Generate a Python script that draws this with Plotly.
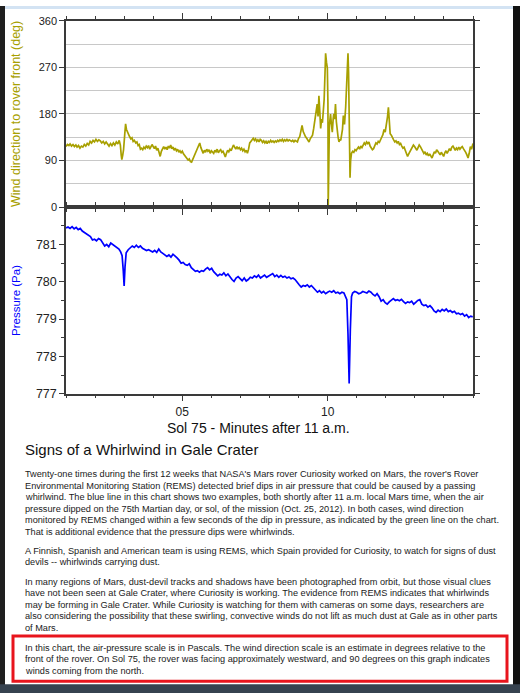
import plotly.graph_objects as go

# wind direction to rover front (deg)
wind_t = [
    1.00, 1.05, 1.10, 1.14, 1.19, 1.24, 1.29, 1.34, 1.38, 1.43, 1.48, 1.53, 1.58, 1.63, 1.68, 1.73,
    1.78, 1.83, 1.88, 1.93, 1.98, 2.03, 2.08, 2.13, 2.18, 2.23, 2.28, 2.33, 2.38, 2.43, 2.48, 2.53,
    2.58, 2.63, 2.68, 2.73, 2.78, 2.83, 2.87, 2.90, 2.92, 2.95, 2.98, 3.02, 3.05, 3.08, 3.11, 3.15,
    3.19, 3.23, 3.27, 3.31, 3.35, 3.40, 3.44, 3.48, 3.52, 3.56, 3.60, 3.64, 3.68, 3.72, 3.76, 3.80,
    3.84, 3.88, 3.92, 3.96, 4.00, 4.04, 4.08, 4.12, 4.16, 4.20, 4.24, 4.28, 4.32, 4.36, 4.40, 4.44,
    4.48, 4.52, 4.56, 4.60, 4.64, 4.68, 4.72, 4.76, 4.80, 4.84, 4.88, 4.92, 4.96, 5.00, 5.04, 5.08,
    5.12, 5.16, 5.20, 5.24, 5.28, 5.32, 5.36, 5.40, 5.44, 5.48, 5.52, 5.56, 5.60, 5.64, 5.68, 5.72,
    5.76, 5.80, 5.84, 5.88, 5.92, 5.96, 6.00, 6.04, 6.08, 6.12, 6.16, 6.20, 6.24, 6.28, 6.32, 6.36,
    6.40, 6.44, 6.48, 6.52, 6.56, 6.60, 6.64, 6.68, 6.72, 6.76, 6.80, 6.84, 6.88, 6.92, 6.96, 7.00,
    7.04, 7.08, 7.12, 7.16, 7.20, 7.24, 7.28, 7.32, 7.36, 7.40, 7.44, 7.48, 7.52, 7.56, 7.60, 7.64,
    7.68, 7.72, 7.76, 7.80, 7.84, 7.88, 7.92, 7.96, 8.00, 8.04, 8.08, 8.12, 8.16, 8.20, 8.24, 8.28,
    8.32, 8.36, 8.40, 8.44, 8.48, 8.52, 8.56, 8.60, 8.64, 8.68, 8.72, 8.76, 8.80, 8.84, 8.88, 8.92,
    8.96, 9.00, 9.04, 9.08, 9.12, 9.16, 9.20, 9.24, 9.28, 9.32, 9.36, 9.40, 9.44, 9.48, 9.52, 9.56,
    9.60, 9.64, 9.67, 9.70, 9.73, 9.76, 9.79, 9.82, 9.85, 9.88, 9.91, 9.93, 9.96, 9.99, 10.01, 10.02,
    10.04, 10.06, 10.08, 10.10, 10.13, 10.16, 10.19, 10.21, 10.24, 10.27, 10.30, 10.33, 10.36, 10.39,
    10.42, 10.45, 10.48, 10.51, 10.54, 10.58, 10.62, 10.65, 10.67, 10.69, 10.70, 10.72, 10.74, 10.76,
    10.77, 10.79, 10.82, 10.86, 10.90, 10.94, 10.98, 11.02, 11.06, 11.10, 11.14, 11.18, 11.22, 11.26,
    11.30, 11.34, 11.38, 11.42, 11.46, 11.50, 11.54, 11.58, 11.62, 11.66, 11.70, 11.74, 11.78, 11.82,
    11.86, 11.90, 11.94, 11.98, 12.02, 12.06, 12.09, 12.12, 12.15, 12.19, 12.23, 12.27, 12.31, 12.35,
    12.39, 12.43, 12.47, 12.51, 12.55, 12.59, 12.63, 12.67, 12.71, 12.75, 12.79, 12.83, 12.87, 12.91,
    12.95, 12.99, 13.03, 13.07, 13.11, 13.15, 13.19, 13.23, 13.27, 13.31, 13.35, 13.39, 13.43, 13.47,
    13.51, 13.55, 13.59, 13.63, 13.67, 13.71, 13.75, 13.79, 13.83, 13.87, 13.91, 13.95, 13.99, 14.03,
    14.07, 14.11, 14.15, 14.19, 14.23, 14.27, 14.31, 14.35, 14.39, 14.43, 14.47, 14.51, 14.55, 14.59,
    14.63, 14.67, 14.71, 14.75, 14.79, 14.83, 14.87, 14.91, 14.95, 14.99, 15.00,
]
wind_deg = [
    117, 121, 119, 122, 118, 121, 117, 120, 116, 119, 114, 118, 116, 121, 118, 123,
    120, 127, 124, 129, 126, 131, 127, 130, 128, 124, 127, 122, 126, 121, 118, 123,
    119, 124, 120, 126, 122, 129, 120, 100, 92, 100, 111, 140, 161, 150, 145, 140,
    136, 132, 134, 127, 129, 124, 126, 119, 121, 112, 114, 111, 116, 113, 118, 115,
    119, 112, 116, 121, 117, 113, 118, 110, 114, 104, 98, 108, 113, 117, 112, 116,
    111, 118, 114, 120, 113, 116, 110, 114, 109, 112, 106, 109, 105, 108, 103, 100,
    97, 95, 91, 93, 88, 87, 92, 97, 101, 106, 112, 118, 124, 115, 109, 104,
    110, 106, 112, 108, 111, 104, 109, 106, 104, 110, 107, 112, 105, 109, 111, 106,
    108, 103, 97, 104, 110, 107, 112, 109, 114, 120, 116, 112, 117, 113, 115, 111,
    114, 109, 112, 107, 110, 104, 112, 124, 127, 131, 133, 129, 132, 127, 130, 126,
    131, 129, 125, 128, 124, 127, 123, 127, 125, 129, 126, 128, 125, 128, 126, 129,
    127, 130, 128, 131, 127, 130, 128, 131, 128, 130, 128, 127, 129, 126, 129, 127,
    126, 133, 136, 147, 158, 146, 140, 136, 133, 129, 126, 132, 137, 139, 152, 170,
    180, 199, 175, 215, 185, 152, 170, 163, 185, 208, 260, 297, 280, 268, 200, 2,
    80, 158, 170, 180, 160, 145, 170, 180, 170, 199, 165, 142, 135, 126,
    131, 129, 138, 150, 177, 160, 193, 230, 268, 285, 297, 260, 180, 100,
    57, 90, 104, 108, 106, 111, 109, 113, 116, 112, 118, 115, 120, 124,
    121, 126, 123, 126, 118, 115, 111, 113, 120, 124, 122, 127, 125, 129,
    135, 140, 150, 145, 158, 175, 193, 160, 142, 139, 133, 130, 126, 128,
    124, 127, 121, 123, 118, 114, 116, 109, 104, 98, 103, 108, 112, 116,
    120, 117, 114, 110, 115, 120, 117, 112, 108, 104, 107, 101, 104, 99,
    103, 97, 95, 101, 107, 104, 111, 108, 105, 101, 106, 100, 98, 105,
    109, 104, 110, 113, 109, 116, 118, 113, 110, 114, 111, 116, 112, 115,
    117, 113, 110, 106, 101, 95, 104, 117, 112, 121, 123,
]

# air pressure (Pa)
pres_t = [
    1.00, 1.07, 1.14, 1.21, 1.28, 1.35, 1.42, 1.49, 1.56, 1.63, 1.70, 1.77, 1.84, 1.91, 1.98, 2.05,
    2.12, 2.19, 2.26, 2.33, 2.40, 2.47, 2.54, 2.61, 2.68, 2.75, 2.82, 2.88, 2.93, 2.97, 3.00, 3.03,
    3.07, 3.14, 3.21, 3.28, 3.35, 3.42, 3.49, 3.56, 3.63, 3.70, 3.77, 3.84, 3.91, 3.98, 4.05, 4.12,
    4.19, 4.26, 4.33, 4.40, 4.47, 4.54, 4.61, 4.68, 4.75, 4.82, 4.89, 4.96, 5.03, 5.10, 5.17, 5.24,
    5.31, 5.38, 5.45, 5.52, 5.59, 5.66, 5.73, 5.80, 5.87, 5.94, 6.01, 6.08, 6.15, 6.22, 6.29, 6.36,
    6.43, 6.50, 6.57, 6.64, 6.71, 6.78, 6.85, 6.92, 6.99, 7.06, 7.13, 7.20, 7.27, 7.34, 7.41, 7.48,
    7.55, 7.62, 7.69, 7.76, 7.83, 7.90, 7.97, 8.04, 8.11, 8.18, 8.25, 8.32, 8.39, 8.46, 8.53, 8.60,
    8.67, 8.74, 8.81, 8.88, 8.95, 9.02, 9.09, 9.16, 9.23, 9.30, 9.37, 9.44, 9.51, 9.58, 9.65, 9.72,
    9.79, 9.86, 9.93, 10.00, 10.07, 10.14, 10.21, 10.28, 10.35, 10.42, 10.49, 10.56, 10.62, 10.66,
    10.70, 10.74, 10.78, 10.82, 10.86, 10.93, 11.00, 11.07, 11.14, 11.21, 11.28, 11.35, 11.42, 11.49,
    11.56, 11.63, 11.70, 11.77, 11.84, 11.91, 11.98, 12.05, 12.12, 12.19, 12.26, 12.33, 12.40, 12.47,
    12.54, 12.61, 12.68, 12.75, 12.82, 12.89, 12.96, 13.03, 13.10, 13.17, 13.24, 13.31, 13.38, 13.45,
    13.52, 13.59, 13.66, 13.73, 13.80, 13.87, 13.94, 14.01, 14.08, 14.15, 14.22, 14.29, 14.36, 14.43,
    14.50, 14.57, 14.64, 14.71, 14.78, 14.85, 14.92, 14.99,
]
pres_pa = [
    781.44, 781.47, 781.43, 781.48, 781.42, 781.46, 781.40, 781.43, 781.36, 781.32, 781.28, 781.24,
    781.21, 781.12, 781.14, 781.10, 781.16, 781.13, 781.04, 780.96, 781.00, 780.94, 781.04, 781.00,
    780.95, 780.90, 780.88, 780.80, 780.70, 780.30, 779.89, 780.40, 780.78, 780.86, 780.90, 780.96,
    780.92, 780.98, 780.92, 780.96, 780.90, 780.88, 780.84, 780.86, 780.82, 780.80, 780.84, 780.79,
    780.88, 780.80, 780.76, 780.72, 780.68, 780.72, 780.66, 780.74, 780.70, 780.64, 780.58, 780.50,
    780.52, 780.46, 780.44, 780.48, 780.38, 780.33, 780.28, 780.30, 780.26, 780.30, 780.28, 780.34,
    780.38, 780.32, 780.36, 780.27, 780.22, 780.16, 780.20, 780.18, 780.24, 780.16, 780.21, 780.12,
    780.06, 780.01, 780.10, 780.14, 780.08, 780.03, 780.10, 780.02, 780.06, 780.12, 780.10, 780.16,
    780.12, 780.18, 780.10, 780.14, 780.18, 780.12, 780.16, 780.20, 780.22, 780.14, 780.18, 780.12,
    780.17, 780.12, 780.15, 780.10, 780.13, 780.08, 780.10, 780.06, 779.98, 779.92, 779.86, 779.90,
    779.88, 779.92, 779.86, 779.90, 779.84, 779.78, 779.72, 779.76, 779.70, 779.74, 779.68, 779.72,
    779.75, 779.72, 779.76, 779.70, 779.72, 779.68, 779.72, 779.70, 779.60, 779.52, 778.60, 777.27,
    778.70, 779.60, 779.70, 779.74, 779.72, 779.68, 779.70, 779.74, 779.72, 779.70, 779.75, 779.72,
    779.66, 779.62, 779.68, 779.60, 779.48, 779.52, 779.44, 779.40, 779.46, 779.52, 779.55, 779.50,
    779.52, 779.49, 779.53, 779.47, 779.42, 779.46, 779.44, 779.48, 779.40, 779.45, 779.50, 779.52,
    779.40, 779.36, 779.38, 779.32, 779.36, 779.30, 779.22, 779.18, 779.24, 779.20, 779.26, 779.22,
    779.27, 779.20, 779.23, 779.18, 779.21, 779.14, 779.16, 779.12, 779.15, 779.08, 779.12, 779.04,
    779.08, 779.06,
]

x_ticks = [5, 10]
x_tick_text = ["05", "10"]
wind_ticks = [0, 90, 180, 270, 360]
pres_ticks = [777, 778, 779, 780, 781]

heading = "Signs of a Whirlwind in Gale Crater"
paragraphs = [
    [
        "Twenty-one times during the first 12 weeks that NASA's Mars rover Curiosity worked on Mars, the rover's Rover",
        "Environmental Monitoring Station (REMS) detected brief dips in air pressure that could be caused by a passing",
        "whirlwind. The blue line in this chart shows two examples, both shortly after 11 a.m. local Mars time, when the air",
        "pressure dipped on the 75th Martian day, or sol, of the mission (Oct. 25, 2012). In both cases, wind direction",
        "monitored by REMS changed within a few seconds of the dip in pressure, as indicated by the green line on the chart.",
        "That is additional evidence that the pressure dips were whirlwinds.",
    ],
    [
        "A Finnish, Spanish and American team is using REMS, which Spain provided for Curiosity, to watch for signs of dust",
        "devils -- whirlwinds carrying dust.",
    ],
    [
        "In many regions of Mars, dust-devil tracks and shadows have been photographed from orbit, but those visual clues",
        "have not been seen at Gale Crater, where Curiosity is working. The evidence from REMS indicates that whirlwinds",
        "may be forming in Gale Crater. While Curiosity is watching for them with cameras on some days, researchers are",
        "also considering the possibility that these swirling, convective winds do not lift as much dust at Gale as in other parts",
        "of Mars.",
    ],
    [
        "In this chart, the air-pressure scale is in Pascals. The wind direction scale is an estimate in degrees relative to the",
        "front of the rover. On Sol 75, the rover was facing approximately westward, and 90 degrees on this graph indicates",
        "winds coming from the north.",
    ],
]
para_top = [477, 555, 586.7, 654]  # first-line centre, px from top

W, H = 520, 700


def px(x):
    return x / W


def py(y):
    return 1 - y / H


OLIVE = "#a8a000"
BLUE = "#0000ff"
AXIS = "#3a3a3a"
FONT = "Liberation Sans, Arial, sans-serif"

fig = go.Figure()
fig.add_trace(go.Scatter(x=wind_t, y=wind_deg, mode="lines", xaxis="x", yaxis="y",
                         line=dict(color=OLIVE, width=1.7), hoverinfo="skip"))
fig.add_trace(go.Scatter(x=pres_t, y=pres_pa, mode="lines", xaxis="x2", yaxis="y2",
                         line=dict(color=BLUE, width=1.7), hoverinfo="skip"))

xdom = [px(66), px(473)]
common_x = dict(
    domain=xdom, range=[1, 15], showline=True, linecolor=AXIS, linewidth=1.5, mirror="ticks",
    ticks="outside", ticklen=6, tickcolor=AXIS, tickwidth=1, tickvals=x_ticks, ticktext=x_tick_text,
    showgrid=False, zeroline=False, fixedrange=True,
    minor=dict(tickmode="linear", tick0=0, dtick=1, ticks="outside", ticklen=3, tickcolor=AXIS),
)

fig.update_layout(
    width=W, height=H, margin=dict(l=0, r=0, t=0, b=0),
    paper_bgcolor="white", plot_bgcolor="white", showlegend=False,
    font=dict(family=FONT, color="#222"),
    xaxis=dict(common_x, anchor="y", showticklabels=False),
    yaxis=dict(
        domain=[py(205), py(15)], range=[0, 360], tickvals=wind_ticks, showline=True,
        linecolor=AXIS, linewidth=1.5, mirror="ticks", ticks="outside", ticklen=5, tickcolor=AXIS,
        showgrid=True, gridcolor="#c8c8c8", gridwidth=1.2, zeroline=False, fixedrange=True,
        tickfont=dict(size=11, color="#222"),
        minor=dict(tickmode="linear", tick0=0, dtick=45, showgrid=True, gridcolor="#c8c8c8",
                   gridwidth=1.2, ticks=""),
    ),
    xaxis2=dict(common_x, anchor="y2", tickfont=dict(size=12, color="#222")),
    yaxis2=dict(
        domain=[py(395), py(205)], range=[777, 782], tickvals=pres_ticks, showline=True,
        linecolor=AXIS, linewidth=1.5, mirror="ticks", ticks="outside", ticklen=5, tickcolor=AXIS,
        showgrid=False, zeroline=False, fixedrange=True, tickfont=dict(size=12.5, color="#222"),
        minor=dict(tickmode="linear", tick0=0, dtick=0.5, ticks="outside", ticklen=3, tickcolor=AXIS),
    ),
)

ann = [
    dict(x=px(16), y=py(110), text="Wind direction to rover front (deg)", textangle=-90,
         font=dict(size=12.5, color=OLIVE)),
    dict(x=px(16.5), y=py(300), text="Pressure (Pa)", textangle=-90,
         font=dict(size=11.5, color=BLUE)),
    dict(x=px(258), y=py(430), text="Sol 75 - Minutes after 11 a.m.",
         font=dict(size=14, color="#111")),
    dict(x=px(23), y=py(452), text=heading, xanchor="left",
         font=dict(size=15, color="#111")),
]
for top, lines in zip(para_top, paragraphs):
    for i, line in enumerate(lines):
        ann.append(dict(x=px(23), y=py(top + i * 11.7), text=line, xanchor="left",
                        font=dict(size=9.2, color="#1a1a1a")))
for a in ann:
    a.update(xref="paper", yref="paper", showarrow=False)
    a.setdefault("xanchor", "center")
    a.setdefault("yanchor", "middle")
fig.update_layout(annotations=ann)

# page frame of the screenshot and the red highlight box
shapes = [
    dict(type="rect", x0=0, x1=1, y0=py(3), y1=1, fillcolor="#d3e3f3", line_width=0),
    dict(type="rect", x0=0, x1=px(5), y0=0, y1=1, fillcolor="#1f1f1f", line_width=0),
    dict(type="rect", x0=px(513), x1=1, y0=0, y1=1, fillcolor="#111111", line_width=0),
    dict(type="rect", x0=0, x1=1, y0=0, y1=py(691), fillcolor="#36424f", line_width=0),
    dict(type="rect", x0=px(13), x1=px(507), y0=py(688), y1=py(642),
         line=dict(color="#e8141c", width=3)),
]
for s in shapes:
    s.update(xref="paper", yref="paper", layer="above")
fig.update_layout(shapes=shapes)

# drop the default 8px page margin so the figure sits at the window corner
fig.write_html("out.html", config={"displayModeBar": False},
               post_script="document.body.style.margin='0';")
